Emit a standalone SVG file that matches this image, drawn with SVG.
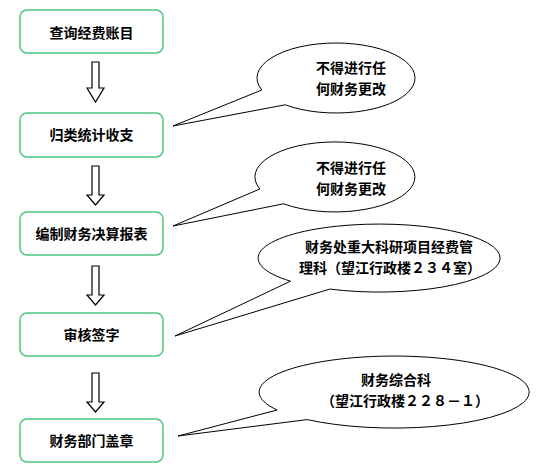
<svg xmlns="http://www.w3.org/2000/svg" width="558" height="475" viewBox="0 0 558 475">
<style>
.box{fill:#fff;stroke:#4cc67e;stroke-width:1.5}
.t{font-family:"Noto Sans CJK SC","Liberation Sans",sans-serif;font-size:14px;font-weight:bold;fill:#000;text-anchor:middle}
.arr{fill:#fff;stroke:#000;stroke-width:1.2}
.call{fill:#fff;stroke:#000;stroke-width:1}
</style>
<rect width="558" height="475" fill="#fff"/>
<g id="connectors">
<path class="arr" d="M92,62 H99 V88 H104 L95.5,102 L87,88 H92 Z"/>
<path class="arr" d="M92,166 H99 V195 H104 L95.5,205 L87,195 H92 Z"/>
<path class="arr" d="M92,266 H99 V295 H104 L95.5,305 L87,295 H92 Z"/>
<path class="arr" d="M92,373 H99 V402 H104 L95.5,412 L87,402 H92 Z"/>
</g>
<g id="n1"><rect class="box" x="20" y="10" width="143" height="43" rx="7"/><text class="t" x="91.5" y="38">查询经费账目</text></g>
<g id="n2"><rect class="box" x="20" y="113" width="143" height="44" rx="7"/><text class="t" x="91.5" y="140">归类统计收支</text></g>
<g id="n3"><rect class="box" x="20" y="212" width="143" height="43" rx="7"/><text class="t" x="91.5" y="239">编制财务决算报表</text></g>
<g id="n4"><rect class="box" x="20" y="313" width="143" height="43" rx="7"/><text class="t" x="91.5" y="340">审核签字</text></g>
<g id="n5"><rect class="box" x="20" y="419" width="143" height="43" rx="7"/><text class="t" x="91.5" y="446">财务部门盖章</text></g>
<g id="c1">
<path class="call" d="M261.8,90 L173,126 L285.2,104.8 A79,35 0 1 0 261.8,90 Z"/>
<text class="t" x="351" y="73">不得进行任</text>
<text class="t" x="351" y="94">何财务更改</text>
</g>
<g id="c2">
<path class="call" d="M259.8,189 L173,226 L283.6,203.8 A80,35 0 1 0 259.8,189 Z"/>
<text class="t" x="351" y="173">不得进行任</text>
<text class="t" x="351" y="194">何财务更改</text>
</g>
<g id="c3">
<path class="call" d="M290.5,281.2 L175,336 L329.8,289.1 A121,34 0 1 0 290.5,281.2 Z"/>
<text class="t" x="389" y="252">财务处重大科研项目经费管</text>
<text class="t" x="390" y="273">理科（望江行政楼２３４室）</text>
</g>
<g id="c4">
<path class="call" d="M277.1,410 L178,436 L307.2,419.6 A135,36 0 1 0 277.1,410 Z"/>
<text class="t" x="396" y="385">财务综合科</text>
<text class="t" x="405" y="406">（望江行政楼２２８－１）</text>
</g>
</svg>
